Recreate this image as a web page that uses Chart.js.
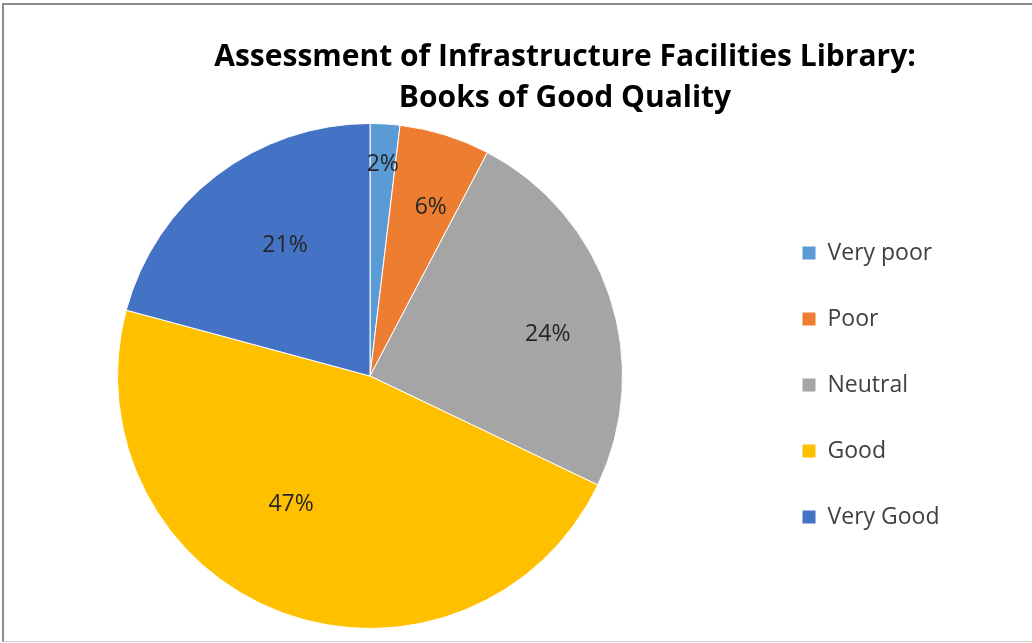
<!DOCTYPE html>
<html>
<head>
    <title>Books of Good Quality</title>
    <script src="https://cdn.jsdelivr.net/npm/chart.js"></script>
    <style>
        body { margin: 0; background: #fff; }
        #wrap { position: relative; width: 1032px; height: 643px; }
        #frame { position: absolute; left: 2px; top: 3px; right: 0; bottom: 1px;
                 border-left: 2px solid #8c8c8c; border-top: 2px solid #8c8c8c;
                 border-bottom: 1px solid #d0d0d0; pointer-events: none; }
    </style>
</head>
<body>
<div id="wrap">
    <canvas id="pieChart" width="1032" height="643"></canvas>
    <div id="frame"></div>
</div>

<script>
const titleLines = ['Assessment of Infrastructure Facilities Library:', 'Books of Good Quality'];
const categories = ['Very poor', 'Poor', 'Neutral', 'Good', 'Very Good'];
const shares = [1.9, 5.8, 24.4, 47.1, 20.8];
const colors = ['#5B9BD5', '#ED7D31', '#A5A5A5', '#FFC000', '#4472C4'];

const FONT = '"Open Sans", Lato, sans-serif';
const legendSize = 23;
const legendPad = 43;
const legendBox = 14;
const markerX = 802;      // left edge of the legend squares
const pieRight = 740;     // chart area right edge -> pie centred at x=370

// title drawn by hand so it can sit off-centre like the original
const titlePlugin = {
    id: 'offTitle',
    afterDraw(chart, args, opts) {
        const c = chart.ctx;
        c.save();
        c.font = 'bold 30px ' + FONT;
        c.fillStyle = '#000';
        c.textAlign = 'center';
        c.textBaseline = 'middle';
        titleLines.forEach((t, i) => c.fillText(t, opts.x, opts.y + i * opts.lineGap));
        c.restore();
    }
};

// slide the legend column sideways, its width stays the same
const legendShift = {
    id: 'legendShift',
    afterLayout(chart) {
        const lg = chart.legend;
        const dx = markerX - legendPad - lg.left;
        lg.left += dx;
        lg.right += dx;
    }
};

// percentage labels inside the slices
const pctPlugin = {
    id: 'pctLabels',
    afterDatasetsDraw(chart, args, opts) {
        const c = chart.ctx;
        const meta = chart.getDatasetMeta(0);
        const total = shares.reduce((a, b) => a + b, 0);
        c.save();
        c.font = '23px ' + FONT;
        c.fillStyle = '#262626';
        c.textAlign = 'center';
        c.textBaseline = 'middle';
        meta.data.forEach((arc, i) => {
            const p = arc.getProps(['x', 'y', 'startAngle', 'endAngle', 'outerRadius'], true);
            const mid = (p.startAngle + p.endAngle) / 2 + opts.turn[i] * Math.PI / 180;
            const r = p.outerRadius * opts.radial[i];
            const txt = Math.round(shares[i] / total * 100) + '%';
            c.fillText(txt, p.x + Math.cos(mid) * r, p.y + Math.sin(mid) * r + opts.dy);
        });
        c.restore();
    }
};

const ctx = document.getElementById('pieChart').getContext('2d');
const chart = new Chart(ctx, {
    type: 'pie',
    data: {
        labels: categories,
        datasets: [{
            data: shares,
            backgroundColor: colors,
            borderColor: '#fff',
            borderWidth: 1
        }]
    },
    options: {
        responsive: false,
        animation: false,
        layout: { padding: { top: 123, bottom: 14, left: 0, right: 120 } },
        plugins: {
            title: { display: false },
            tooltip: { enabled: false },
            legend: {
                position: 'right',
                title: { display: true, text: '', font: { size: 10, lineHeight: 1 }, padding: 4 },
                labels: {
                    boxWidth: legendBox,
                    boxHeight: legendBox,
                    padding: legendPad,
                    color: '#404040',
                    font: { family: FONT, size: legendSize }
                }
            },
            offTitle: { x: 565, y: 57, lineGap: 41 },
            pctLabels: {
                radial: [0.847, 0.718, 0.725, 0.591, 0.624],
                turn: [0, 2.3, 4.5, 11.6, 4.8],
                dy: 2
            }
        }
    },
    plugins: [titlePlugin, legendShift, pctPlugin]
});

// second pass: size the right padding from the real legend width
chart.options.layout.padding.right = 1032 - pieRight - chart.legend.width;
chart.update();
</script>
</body>
</html>
